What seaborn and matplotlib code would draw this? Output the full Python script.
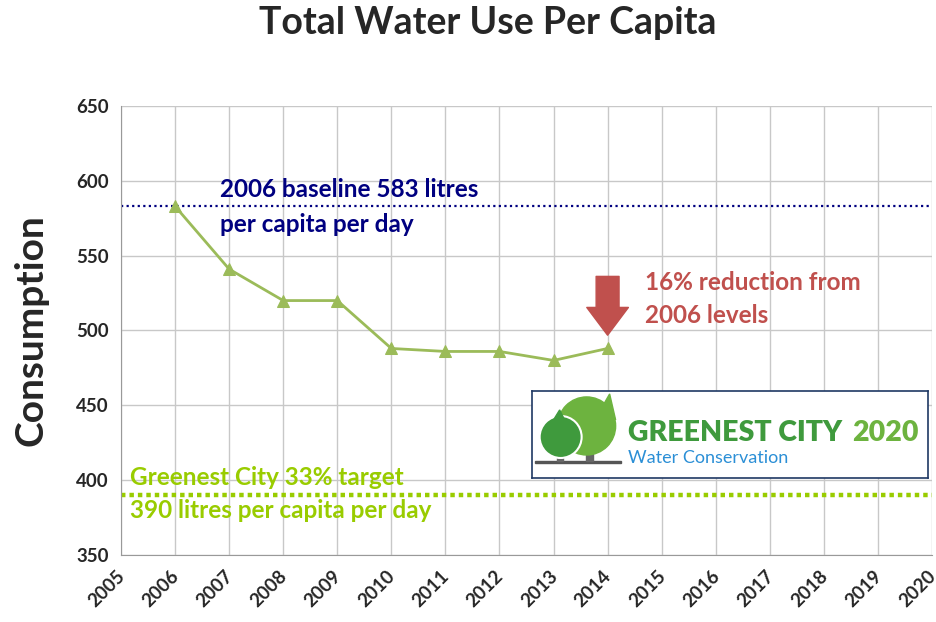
import matplotlib.pyplot as plt
import matplotlib.patches as mpatches
import matplotlib.transforms as mtransforms
import seaborn as sns
import pandas as pd

# data
years = [2006, 2007, 2008, 2009, 2010, 2011, 2012, 2013, 2014]
consumption = [583, 541, 520, 520, 488, 486, 486, 480, 488]
baseline = 583
target = 390
xticks = list(range(2005, 2021))
yticks = [350, 400, 450, 500, 550, 600, 650]

df = pd.DataFrame({'year': years, 'consumption': consumption})

sns.set_style('white')
plt.rcParams['font.family'] = ['Lato', 'DejaVu Sans']

fig = plt.figure(figsize=(9.36, 6.22), dpi=100)
ax = fig.add_axes([0.1293, 0.1077, 0.8664, 0.7219])

sns.lineplot(data=df, x='year', y='consumption', ax=ax, color='#9BBB59',
             linewidth=2, marker='^', markersize=8, markeredgecolor='#9BBB59')

ax.set_xlim(2005, 2020)
ax.set_ylim(350, 650)
ax.set_xticks(xticks)
ax.set_yticks(yticks)
ax.set_xticklabels([str(x) for x in xticks], rotation=45, ha='right',
                   rotation_mode='anchor', fontsize=13.5, fontweight='bold')
ax.set_yticklabels([str(y) for y in yticks], fontsize=13.5, fontweight='bold')
ax.grid(True, color='#c8c8c8', linewidth=1)
for side in ['top', 'right']:
    ax.spines[side].set_visible(False)
ax.spines['left'].set_color('#999999')
ax.spines['bottom'].set_color('#999999')
ax.tick_params(axis='both', length=5, color='#999999', pad=4)
ax.set_axisbelow(True)

# nudge x tick labels a little left so 2020 stays inside
shift = mtransforms.ScaledTranslation(-5 / 100, 0, fig.dpi_scale_trans)
for lbl in ax.get_xticklabels():
    lbl.set_transform(lbl.get_transform() + shift)

ax.set_xlabel('')
ax.set_ylabel('Consumption', fontsize=28, fontweight='bold', labelpad=20)

# reference lines
ax.axhline(baseline, color='#000080', linestyle=(0, (1, 1.5)), linewidth=1.6, zorder=1)
ax.axhline(target, color='#99CC00', linestyle=(0, (1, 0.9)), linewidth=3.2, zorder=1)

navy_lines = ['2006 baseline 583 litres', 'per capita per day']
red_lines = ['16% reduction from', '2006 levels']
green_lines = ['Greenest City 33% target', '390 litres per capita per day']
for txt, yv in zip(navy_lines, [594, 570.5]):
    ax.text(2006.83, yv, txt, color='#000080', fontsize=17.5, fontweight='bold', va='center')
for txt, yv in zip(red_lines, [531.8, 509.7]):
    ax.text(2014.69, yv, txt, color='#C0504D', fontsize=17.5, fontweight='bold', va='center')
for txt, yv in zip(green_lines, [401.5, 379.5]):
    ax.text(2005.17, yv, txt, color='#99CC00', fontsize=17.5, fontweight='bold', va='center')

arrow = mpatches.FancyArrowPatch((2014, 538), (2014, 495),
                                 arrowstyle='simple,tail_width=1.65,head_width=3.0,head_length=2.0',
                                 mutation_scale=10, color='#C0504D', zorder=4)
ax.add_patch(arrow)

# logo box
lg = fig.add_axes([0.568, 0.2315, 0.423, 0.14])
lg.set_xlim(0, 396)
lg.set_ylim(0, 87)
lg.set_xticks([])
lg.set_yticks([])
for s in lg.spines.values():
    s.set_color('#1F3864')
    s.set_linewidth(1.2)
lg.add_patch(mpatches.Rectangle((3, 15), 86, 2, color='#555555'))
lg.add_patch(mpatches.Rectangle((25, 17), 6, 16, color='#666666'))
lg.add_patch(mpatches.Rectangle((54, 17), 7, 18, color='#666666'))
lg.add_patch(mpatches.Ellipse((55, 52), 58, 58, color='#6DB33F'))
lg.add_patch(mpatches.Polygon([[70, 70], [78, 84], [84, 58]], color='#6DB33F'))
lg.add_patch(mpatches.Ellipse((29, 41), 42, 42, color='#3F9A3D', ec='white', lw=1.5))
lg.add_patch(mpatches.Polygon([[20, 55], [28, 68], [34, 56]], color='#3F9A3D'))
lg.text(96, 45, 'GREENEST CITY', color='#3F9A3D', fontsize=20.5, fontweight='heavy', va='center')
lg.text(387, 45, '2020', color='#6DB33F', fontsize=20.5, fontweight='heavy', va='center', ha='right')
lg.text(96, 20, 'Water Conservation', color='#2B8FD6', fontsize=13, va='center')

fig.suptitle('Total Water Use Per Capita', x=0.521, y=0.99, fontsize=27, fontweight='bold')

plt.savefig('out.png', dpi=100)
